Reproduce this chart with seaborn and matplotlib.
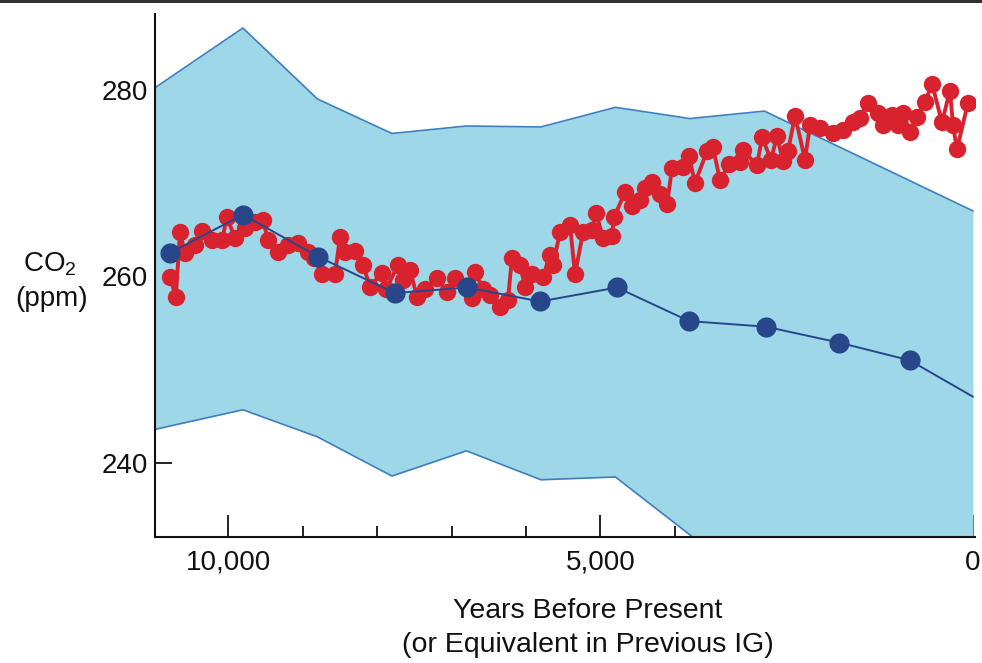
import matplotlib
matplotlib.use("Agg")
import matplotlib.pyplot as plt
from matplotlib.ticker import FixedLocator, FuncFormatter
import seaborn as sns
import pandas as pd

# Uncertainty envelope of the modelled CO2 path (years before present, ppm)
env_years = [10980, 9800, 8800, 7800, 6800, 5800, 4800, 3800, 2800, 0]
env_upper = [280.2, 286.6, 279.0, 275.3, 276.1, 276.0, 278.1, 276.9, 277.7, 267.0]
env_lower = [243.6, 245.7, 242.8, 238.6, 241.3, 238.2, 238.5, 232.3, 226.0, 216.0]

# Previous interglacial record (blue), sampled roughly every 1000 years
prev_years = [10780, 9800, 8790, 7760, 6790, 5810, 4780, 3810, 2780, 1800, 850]
prev_ppm = [262.5, 266.6, 262.1, 258.2, 258.8, 257.3, 258.8, 255.2, 254.6, 252.9, 251.0]
prev_end_year = 0
prev_end_ppm = 247.1

# Holocene ice-core record (red)
holo_years = [10780, 10700, 10645, 10577, 10443, 10349, 10215, 10081, 10013, 9906,
              9772, 9638, 9530, 9463, 9329, 9195, 9060, 8926, 8846, 8738,
              8564, 8497, 8430, 8295, 8188, 8094, 7933, 7879, 7718, 7651,
              7557, 7463, 7356, 7195, 7060, 6953, 6725, 6685, 6577, 6483,
              6349, 6242, 6188, 6081, 6013, 5919, 5772, 5678, 5638, 5544,
              5409, 5342, 5235, 5114, 5060, 4966, 4846, 4819, 4671, 4577,
              4470, 4403, 4309, 4201, 4107, 4040, 3893, 3812, 3732, 3570,
              3490, 3396, 3275, 3128, 3087, 2899, 2832, 2711, 2631, 2550,
              2483, 2389, 2255, 2188, 2054, 1879, 1745, 1611, 1517, 1409,
              1275, 1208, 1087, 1007, 940, 846, 752, 644, 550, 416,
              309, 268, 215, 67]
holo_ppm = [259.9, 257.8, 264.7, 262.5, 263.4, 264.8, 263.9, 263.9, 266.3, 264.1,
            265.2, 265.8, 266.0, 263.9, 262.6, 263.3, 263.6, 262.6, 262.0, 260.2,
            260.2, 264.2, 262.6, 262.7, 261.2, 258.9, 260.4, 258.6, 261.2, 259.6,
            260.7, 257.8, 258.6, 259.8, 258.3, 259.8, 257.7, 260.5, 258.6, 258.0,
            256.7, 257.5, 262.0, 261.2, 258.9, 260.2, 259.9, 262.3, 261.2, 264.7,
            265.5, 260.2, 264.7, 265.0, 266.8, 264.1, 264.3, 266.3, 269.0, 267.5,
            268.2, 269.5, 270.1, 268.8, 267.7, 271.6, 271.7, 272.9, 270.0, 273.4,
            273.8, 270.3, 272.0, 272.2, 273.5, 271.9, 274.9, 272.5, 275.0, 272.4,
            273.4, 277.2, 272.5, 276.2, 275.9, 275.4, 275.7, 276.5, 277.0, 278.6,
            277.5, 276.2, 277.3, 276.2, 277.5, 275.5, 277.1, 278.7, 280.6, 276.5,
            279.9, 276.2, 273.6, 278.6]

x_major = [10000, 5000, 0]
x_major_labels = ["10,000", "5,000", "0"]
x_minor = [9000, 8000, 7000, 6000, 4000, 3000, 2000, 1000]
y_major = [240, 260, 280]
y_minor = [250, 270]

FILL = "#9dd7e8"
EDGE = "#3f7fbf"
RED = "#d8232e"
BLUE = "#27478a"
INK = "#111111"

sns.set_theme(style="ticks")
plt.rcParams["font.family"] = ["Liberation Sans", "DejaVu Sans"]
plt.rcParams["mathtext.default"] = "regular"
plt.rcParams["text.color"] = INK
plt.rcParams["xtick.color"] = INK
plt.rcParams["ytick.color"] = INK

fig = plt.figure(figsize=(9.82, 6.63), dpi=100)
ax = fig.add_axes([155 / 982, 1 - 537 / 663, 820 / 982, 523 / 663])

# envelope
ax.fill_between(env_years, env_lower, env_upper, color=FILL, lw=0, zorder=1)
ax.plot(env_years, env_upper, color=EDGE, lw=1.2, zorder=2)
ax.plot(env_years, env_lower, color=EDGE, lw=1.2, zorder=2)

# Holocene record
holo = pd.DataFrame({"year": holo_years, "ppm": holo_ppm})
sns.lineplot(data=holo, x="year", y="ppm", sort=False, estimator=None,
             color=RED, lw=2.8, marker="o", markersize=12.5,
             markeredgewidth=0, ax=ax, zorder=3)

# previous interglacial
prev_line = pd.DataFrame({"year": prev_years + [prev_end_year],
                          "ppm": prev_ppm + [prev_end_ppm]})
sns.lineplot(data=prev_line, x="year", y="ppm", sort=False, estimator=None,
             color=BLUE, lw=1.4, ax=ax, zorder=4)
prev = pd.DataFrame({"year": prev_years, "ppm": prev_ppm})
sns.scatterplot(data=prev, x="year", y="ppm", color=BLUE, s=210,
                linewidth=0, ax=ax, zorder=5)

ax.set_xlim(10980, -27)
ax.set_ylim(232.07, 288.1)

ax.xaxis.set_major_locator(FixedLocator(x_major))
ax.xaxis.set_major_formatter(FuncFormatter(
    lambda v, p: x_major_labels[x_major.index(int(round(v)))] if int(round(v)) in x_major else ""))
ax.xaxis.set_minor_locator(FixedLocator(x_minor))
ax.yaxis.set_major_locator(FixedLocator(y_major))
ax.yaxis.set_minor_locator(FixedLocator(y_minor))

ax.tick_params(axis="x", which="major", direction="in", length=16, width=1.3,
               labelsize=20, pad=9, labelcolor=INK)
ax.tick_params(axis="x", which="minor", direction="in", length=8, width=1.3)
ax.tick_params(axis="y", which="major", direction="in", length=12, width=1.3,
               labelsize=20, pad=5, labelcolor=INK)
ax.tick_params(axis="y", which="minor", direction="in", length=6, width=1.3)

for side in ["top", "right"]:
    ax.spines[side].set_visible(False)
for side in ["left", "bottom"]:
    ax.spines[side].set_linewidth(1.5)
    ax.spines[side].set_color(INK)

ax.set_xlabel("")
ax.set_ylabel("")

fig.text(50 / 982, 1 - 264 / 663, "CO$_2$", ha="center", va="center", fontsize=20)
fig.text(52 / 982, 1 - 299 / 663, "(ppm)", ha="center", va="center", fontsize=20)
fig.text(588 / 982, 1 - 611 / 663, "Years Before Present", ha="center",
         va="center", fontsize=20.5)
fig.text(588 / 982, 1 - 645 / 663, "(or Equivalent in Previous IG)", ha="center",
         va="center", fontsize=20.5)

# thin frame line along the top edge
fig.add_artist(plt.Rectangle((0, 1 - 3 / 663), 1, 3 / 663,
                             transform=fig.transFigure, color="#333333", lw=0))

fig.savefig("out.png", dpi=100)
